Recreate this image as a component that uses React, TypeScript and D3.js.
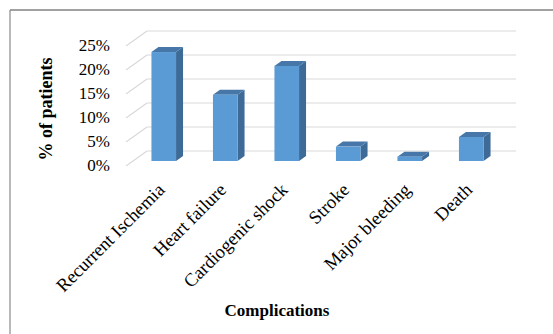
import React from "react";
import * as d3 from "d3";

const categories = ["Recurrent Ischemia", "Heart failure", "Cardiogenic shock", "Stroke", "Major bleeding", "Death"];
const values = [22.7, 13.8, 19.8, 3.0, 0.9, 5.0];
const ticks = [0, 5, 10, 15, 20, 25];

const W = 553, H = 334;
const FONT = "'Liberation Serif', 'Times New Roman', serif";

export default function App() {
  // front plane of the 3D box
  const x = d3.scaleBand<string>().domain(categories).range([126, 495]).paddingInner(0.6).paddingOuter(0.3);
  const y = d3.scaleLinear().domain([0, 25]).range([166, 46]);
  const depth = { dx: 21, dy: -15 };
  const barF = { dx: 7, dy: -5 };
  const barB = { dx: 14, dy: -10 };

  return (
    <svg width={W} height={H} style={{ position: "absolute", left: 0, top: 0 }}>
      <rect x={0} y={0} width={W} height={H} fill="#fff" />
      {/* frame */}
      <line x1={10} y1={10} x2={W} y2={10} stroke="#444" strokeWidth={1.2} />
      <line x1={10} y1={10} x2={10} y2={H} stroke="#8a8a8a" strokeWidth={1.2} />
      {/* gridlines */}
      {ticks.map((t) => (
        <g key={t}>
          <line x1={126} y1={y(t)} x2={126 + depth.dx} y2={y(t) + depth.dy} stroke="#d9d9d9" strokeWidth={1.2} />
          <line x1={126 + depth.dx} y1={y(t) + depth.dy} x2={495 + depth.dx} y2={y(t) + depth.dy} stroke="#d9d9d9" strokeWidth={1.2} />
          <text x={110} y={y(t) + 1.5} textAnchor="end" dominantBaseline="middle" fontFamily={FONT} fontSize={17} fill="#000">
            {t}%
          </text>
        </g>
      ))}
      {/* bars */}
      {categories.map((c, i) => {
        const x0 = (x(c) as number) + barF.dx;
        const bw = x.bandwidth();
        const y0 = y(0) + barF.dy;
        const yt = y(values[i]) + barF.dy;
        const ox = barB.dx - barF.dx;
        const oy = barB.dy - barF.dy;
        const x1 = x0 + bw;
        return (
          <g key={c}>
            <polygon points={`${x1},${y0} ${x1 + ox},${y0 + oy} ${x1 + ox},${yt + oy} ${x1},${yt}`} fill="#3d6a96" />
            <polygon points={`${x0},${yt} ${x0 + ox},${yt + oy} ${x1 + ox},${yt + oy} ${x1},${yt}`} fill="#4677a8" />
            <rect x={x0} y={yt} width={bw} height={y0 - yt} fill="#5b9bd5" />
          </g>
        );
      })}
      {/* category labels */}
      {categories.map((c) => {
        const cx = (x(c) as number) + barF.dx + x.bandwidth() / 2 + 2;
        const cy = 191;
        return (
          <text key={c} x={cx} y={cy} transform={`rotate(-45 ${cx} ${cy})`} textAnchor="end" fontFamily={FONT} fontSize={18.5} fill="#000">
            {c}
          </text>
        );
      })}
      {/* axis titles */}
      <text x={52} y={109} transform="rotate(-90 52 109)" textAnchor="middle" fontFamily={FONT} fontSize={18} fontWeight="bold" fill="#000">
        % of patients
      </text>
      <text x={277} y={316} textAnchor="middle" fontFamily={FONT} fontSize={17} fontWeight="bold" fill="#000">
        Complications
      </text>
    </svg>
  );
}
